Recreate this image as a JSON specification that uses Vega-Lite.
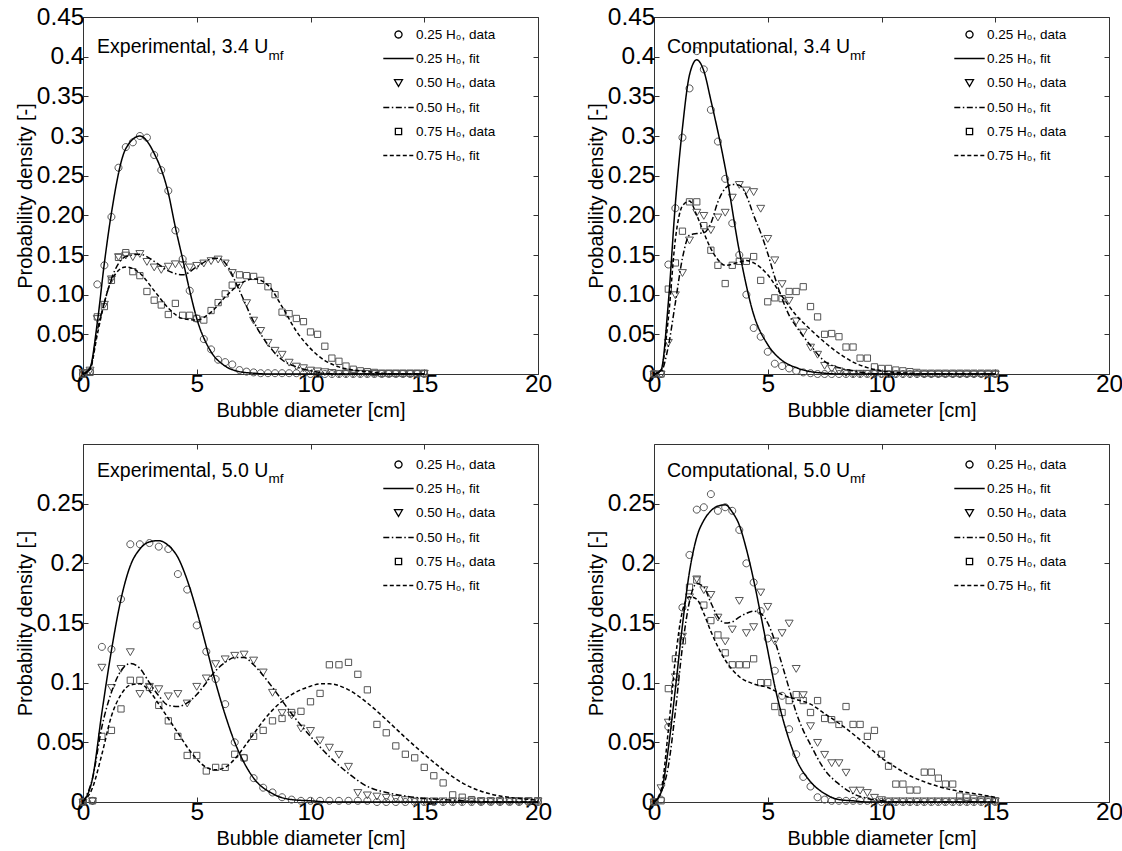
{
"$schema":"https://vega.github.io/schema/vega-lite/v6.json",
"background":"white",
"padding":{"left":14,"top":3,"right":0,"bottom":5},
"columns":2,
"spacing":{"row":22,"column":32},
"resolve":{"scale":{"shape":"independent","strokeDash":"independent"}},
"config":{
 "font":"Liberation Sans",
 "view":{"stroke":"#333","strokeWidth":1},
 "axis":{"domain":false,"grid":false,"tickColor":"#333","tickWidth":1,"labelFontSize":24.5,"titleFontSize":20,"labelColor":"#000","titleColor":"#000","titleFontWeight":"normal","labelFont":"Liberation Sans","titleFont":"Liberation Sans","labelFlush":false,"labelOverlap":false},
 "text":{"font":"Liberation Sans","color":"#000"}
},
"datasets":{
"pts":[
{"p":"A","s":"d1","x":0,"y":0},{"p":"A","s":"d1","x":0.31,"y":0.003},{"p":"A","s":"d1","x":0.63,"y":0.113},{"p":"A","s":"d1","x":0.94,"y":0.137},{"p":"A","s":"d1","x":1.25,"y":0.198},{"p":"A","s":"d1","x":1.56,"y":0.26},{"p":"A","s":"d1","x":1.88,"y":0.286},{"p":"A","s":"d1","x":2.19,"y":0.292},{"p":"A","s":"d1","x":2.5,"y":0.3},{"p":"A","s":"d1","x":2.81,"y":0.298},{"p":"A","s":"d1","x":3.13,"y":0.276},{"p":"A","s":"d1","x":3.44,"y":0.257},{"p":"A","s":"d1","x":3.75,"y":0.231},{"p":"A","s":"d1","x":4.06,"y":0.181},{"p":"A","s":"d1","x":4.38,"y":0.145},{"p":"A","s":"d1","x":4.69,"y":0.105},{"p":"A","s":"d1","x":5,"y":0.07},{"p":"A","s":"d1","x":5.31,"y":0.044},{"p":"A","s":"d1","x":5.63,"y":0.031},{"p":"A","s":"d1","x":5.94,"y":0.018},{"p":"A","s":"d1","x":6.25,"y":0.015},{"p":"A","s":"d1","x":6.56,"y":0.012},{"p":"A","s":"d1","x":6.88,"y":0.005},{"p":"A","s":"d1","x":7.19,"y":0.003},{"p":"A","s":"d1","x":7.5,"y":0.002},{"p":"A","s":"d1","x":7.81,"y":0.001},{"p":"A","s":"d1","x":8.13,"y":0.001},{"p":"A","s":"d1","x":8.44,"y":0.001},{"p":"A","s":"d1","x":8.75,"y":0.001},{"p":"A","s":"d1","x":9.06,"y":0.001},{"p":"A","s":"d1","x":9.38,"y":0.001},{"p":"A","s":"d1","x":9.69,"y":0},{"p":"A","s":"d1","x":10,"y":0},{"p":"A","s":"d1","x":10.31,"y":0},{"p":"A","s":"d1","x":10.63,"y":0},{"p":"A","s":"d1","x":10.94,"y":0},{"p":"A","s":"d1","x":11.25,"y":0},{"p":"A","s":"d1","x":11.56,"y":0},{"p":"A","s":"d1","x":11.88,"y":0},{"p":"A","s":"d1","x":12.19,"y":0},{"p":"A","s":"d1","x":12.5,"y":0},{"p":"A","s":"d1","x":12.81,"y":0},{"p":"A","s":"d1","x":13.13,"y":0},{"p":"A","s":"d1","x":13.44,"y":0},{"p":"A","s":"d1","x":13.75,"y":0},{"p":"A","s":"d1","x":14.06,"y":0},{"p":"A","s":"d1","x":14.38,"y":0},{"p":"A","s":"d1","x":14.69,"y":0},{"p":"A","s":"d1","x":15,"y":0},
{"p":"A","s":"d2","x":0,"y":0.002},{"p":"A","s":"d2","x":0.31,"y":0.005},{"p":"A","s":"d2","x":0.63,"y":0.07},{"p":"A","s":"d2","x":0.94,"y":0.088},{"p":"A","s":"d2","x":1.25,"y":0.12},{"p":"A","s":"d2","x":1.56,"y":0.148},{"p":"A","s":"d2","x":1.88,"y":0.15},{"p":"A","s":"d2","x":2.19,"y":0.148},{"p":"A","s":"d2","x":2.5,"y":0.152},{"p":"A","s":"d2","x":2.81,"y":0.142},{"p":"A","s":"d2","x":3.13,"y":0.135},{"p":"A","s":"d2","x":3.44,"y":0.132},{"p":"A","s":"d2","x":3.75,"y":0.136},{"p":"A","s":"d2","x":4.06,"y":0.139},{"p":"A","s":"d2","x":4.38,"y":0.138},{"p":"A","s":"d2","x":4.69,"y":0.135},{"p":"A","s":"d2","x":5,"y":0.137},{"p":"A","s":"d2","x":5.31,"y":0.14},{"p":"A","s":"d2","x":5.63,"y":0.143},{"p":"A","s":"d2","x":5.94,"y":0.145},{"p":"A","s":"d2","x":6.25,"y":0.14},{"p":"A","s":"d2","x":6.56,"y":0.128},{"p":"A","s":"d2","x":6.88,"y":0.112},{"p":"A","s":"d2","x":7.19,"y":0.09},{"p":"A","s":"d2","x":7.5,"y":0.068},{"p":"A","s":"d2","x":7.81,"y":0.055},{"p":"A","s":"d2","x":8.13,"y":0.04},{"p":"A","s":"d2","x":8.44,"y":0.03},{"p":"A","s":"d2","x":8.75,"y":0.025},{"p":"A","s":"d2","x":9.06,"y":0.015},{"p":"A","s":"d2","x":9.38,"y":0.01},{"p":"A","s":"d2","x":9.69,"y":0.008},{"p":"A","s":"d2","x":10,"y":0.005},{"p":"A","s":"d2","x":10.31,"y":0.004},{"p":"A","s":"d2","x":10.63,"y":0.003},{"p":"A","s":"d2","x":10.94,"y":0.002},{"p":"A","s":"d2","x":11.25,"y":0.001},{"p":"A","s":"d2","x":11.56,"y":0.001},{"p":"A","s":"d2","x":11.88,"y":0.001},{"p":"A","s":"d2","x":12.19,"y":0.001},{"p":"A","s":"d2","x":12.5,"y":0.001},{"p":"A","s":"d2","x":12.81,"y":0.001},{"p":"A","s":"d2","x":13.13,"y":0.001},{"p":"A","s":"d2","x":13.44,"y":0.001},{"p":"A","s":"d2","x":13.75,"y":0.001},{"p":"A","s":"d2","x":14.06,"y":0.001},{"p":"A","s":"d2","x":14.38,"y":0.001},{"p":"A","s":"d2","x":14.69,"y":0.001},{"p":"A","s":"d2","x":15,"y":0.001},
{"p":"A","s":"d3","x":0,"y":0},{"p":"A","s":"d3","x":0.31,"y":0.002},{"p":"A","s":"d3","x":0.63,"y":0.072},{"p":"A","s":"d3","x":0.94,"y":0.085},{"p":"A","s":"d3","x":1.25,"y":0.118},{"p":"A","s":"d3","x":1.56,"y":0.147},{"p":"A","s":"d3","x":1.88,"y":0.153},{"p":"A","s":"d3","x":2.19,"y":0.129},{"p":"A","s":"d3","x":2.5,"y":0.124},{"p":"A","s":"d3","x":2.81,"y":0.104},{"p":"A","s":"d3","x":3.13,"y":0.093},{"p":"A","s":"d3","x":3.44,"y":0.087},{"p":"A","s":"d3","x":3.75,"y":0.075},{"p":"A","s":"d3","x":4.06,"y":0.089},{"p":"A","s":"d3","x":4.38,"y":0.074},{"p":"A","s":"d3","x":4.69,"y":0.074},{"p":"A","s":"d3","x":5,"y":0.07},{"p":"A","s":"d3","x":5.31,"y":0.068},{"p":"A","s":"d3","x":5.63,"y":0.08},{"p":"A","s":"d3","x":5.94,"y":0.09},{"p":"A","s":"d3","x":6.25,"y":0.101},{"p":"A","s":"d3","x":6.56,"y":0.112},{"p":"A","s":"d3","x":6.88,"y":0.125},{"p":"A","s":"d3","x":7.19,"y":0.124},{"p":"A","s":"d3","x":7.5,"y":0.123},{"p":"A","s":"d3","x":7.81,"y":0.118},{"p":"A","s":"d3","x":8.13,"y":0.11},{"p":"A","s":"d3","x":8.44,"y":0.1},{"p":"A","s":"d3","x":8.75,"y":0.078},{"p":"A","s":"d3","x":9.06,"y":0.076},{"p":"A","s":"d3","x":9.38,"y":0.07},{"p":"A","s":"d3","x":9.69,"y":0.066},{"p":"A","s":"d3","x":10,"y":0.053},{"p":"A","s":"d3","x":10.31,"y":0.05},{"p":"A","s":"d3","x":10.63,"y":0.035},{"p":"A","s":"d3","x":10.94,"y":0.02},{"p":"A","s":"d3","x":11.25,"y":0.016},{"p":"A","s":"d3","x":11.56,"y":0.01},{"p":"A","s":"d3","x":11.88,"y":0.006},{"p":"A","s":"d3","x":12.19,"y":0.004},{"p":"A","s":"d3","x":12.5,"y":0.003},{"p":"A","s":"d3","x":12.81,"y":0.002},{"p":"A","s":"d3","x":13.13,"y":0.001},{"p":"A","s":"d3","x":13.44,"y":0.001},{"p":"A","s":"d3","x":13.75,"y":0.001},{"p":"A","s":"d3","x":14.06,"y":0.001},{"p":"A","s":"d3","x":14.38,"y":0.001},{"p":"A","s":"d3","x":14.69,"y":0.001},{"p":"A","s":"d3","x":15,"y":0.001},
{"p":"B","s":"d1","x":0,"y":0},{"p":"B","s":"d1","x":0.31,"y":0},{"p":"B","s":"d1","x":0.63,"y":0.138},{"p":"B","s":"d1","x":0.94,"y":0.209},{"p":"B","s":"d1","x":1.25,"y":0.298},{"p":"B","s":"d1","x":1.56,"y":0.36},{"p":"B","s":"d1","x":1.88,"y":0.407},{"p":"B","s":"d1","x":2.19,"y":0.384},{"p":"B","s":"d1","x":2.5,"y":0.333},{"p":"B","s":"d1","x":2.81,"y":0.293},{"p":"B","s":"d1","x":3.13,"y":0.246},{"p":"B","s":"d1","x":3.44,"y":0.19},{"p":"B","s":"d1","x":3.75,"y":0.15},{"p":"B","s":"d1","x":4.06,"y":0.1},{"p":"B","s":"d1","x":4.38,"y":0.058},{"p":"B","s":"d1","x":4.69,"y":0.047},{"p":"B","s":"d1","x":5,"y":0.028},{"p":"B","s":"d1","x":5.31,"y":0.013},{"p":"B","s":"d1","x":5.63,"y":0.01},{"p":"B","s":"d1","x":5.94,"y":0.007},{"p":"B","s":"d1","x":6.25,"y":0.004},{"p":"B","s":"d1","x":6.56,"y":0.002},{"p":"B","s":"d1","x":6.88,"y":0.001},{"p":"B","s":"d1","x":7.19,"y":0},{"p":"B","s":"d1","x":7.5,"y":0},{"p":"B","s":"d1","x":7.81,"y":0},{"p":"B","s":"d1","x":8.13,"y":0},{"p":"B","s":"d1","x":8.44,"y":0},{"p":"B","s":"d1","x":8.75,"y":0},{"p":"B","s":"d1","x":9.06,"y":0},{"p":"B","s":"d1","x":9.38,"y":0},{"p":"B","s":"d1","x":9.69,"y":0},{"p":"B","s":"d1","x":10,"y":0},{"p":"B","s":"d1","x":10.31,"y":0},{"p":"B","s":"d1","x":10.63,"y":0},{"p":"B","s":"d1","x":10.94,"y":0},{"p":"B","s":"d1","x":11.25,"y":0},{"p":"B","s":"d1","x":11.56,"y":0},{"p":"B","s":"d1","x":11.88,"y":0},{"p":"B","s":"d1","x":12.19,"y":0},{"p":"B","s":"d1","x":12.5,"y":0},{"p":"B","s":"d1","x":12.81,"y":0},{"p":"B","s":"d1","x":13.13,"y":0},{"p":"B","s":"d1","x":13.44,"y":0},{"p":"B","s":"d1","x":13.75,"y":0},{"p":"B","s":"d1","x":14.06,"y":0},{"p":"B","s":"d1","x":14.38,"y":0},{"p":"B","s":"d1","x":14.69,"y":0},{"p":"B","s":"d1","x":15,"y":0},
{"p":"B","s":"d2","x":0,"y":0},{"p":"B","s":"d2","x":0.31,"y":0},{"p":"B","s":"d2","x":0.63,"y":0.04},{"p":"B","s":"d2","x":0.94,"y":0.1},{"p":"B","s":"d2","x":1.25,"y":0.128},{"p":"B","s":"d2","x":1.56,"y":0.169},{"p":"B","s":"d2","x":1.88,"y":0.204},{"p":"B","s":"d2","x":2.19,"y":0.2},{"p":"B","s":"d2","x":2.5,"y":0.182},{"p":"B","s":"d2","x":2.81,"y":0.198},{"p":"B","s":"d2","x":3.13,"y":0.204},{"p":"B","s":"d2","x":3.44,"y":0.223},{"p":"B","s":"d2","x":3.75,"y":0.239},{"p":"B","s":"d2","x":4.06,"y":0.232},{"p":"B","s":"d2","x":4.38,"y":0.23},{"p":"B","s":"d2","x":4.69,"y":0.209},{"p":"B","s":"d2","x":5,"y":0.171},{"p":"B","s":"d2","x":5.31,"y":0.144},{"p":"B","s":"d2","x":5.63,"y":0.114},{"p":"B","s":"d2","x":5.94,"y":0.093},{"p":"B","s":"d2","x":6.25,"y":0.067},{"p":"B","s":"d2","x":6.56,"y":0.053},{"p":"B","s":"d2","x":6.88,"y":0.034},{"p":"B","s":"d2","x":7.19,"y":0.025},{"p":"B","s":"d2","x":7.5,"y":0.011},{"p":"B","s":"d2","x":7.81,"y":0.007},{"p":"B","s":"d2","x":8.13,"y":0.004},{"p":"B","s":"d2","x":8.44,"y":0.002},{"p":"B","s":"d2","x":8.75,"y":0.001},{"p":"B","s":"d2","x":9.06,"y":0.001},{"p":"B","s":"d2","x":9.38,"y":0.001},{"p":"B","s":"d2","x":9.69,"y":0.001},{"p":"B","s":"d2","x":10,"y":0},{"p":"B","s":"d2","x":10.31,"y":0},{"p":"B","s":"d2","x":10.63,"y":0},{"p":"B","s":"d2","x":10.94,"y":0},{"p":"B","s":"d2","x":11.25,"y":0},{"p":"B","s":"d2","x":11.56,"y":0},{"p":"B","s":"d2","x":11.88,"y":0},{"p":"B","s":"d2","x":12.19,"y":0},{"p":"B","s":"d2","x":12.5,"y":0},{"p":"B","s":"d2","x":12.81,"y":0},{"p":"B","s":"d2","x":13.13,"y":0},{"p":"B","s":"d2","x":13.44,"y":0},{"p":"B","s":"d2","x":13.75,"y":0},{"p":"B","s":"d2","x":14.06,"y":0},{"p":"B","s":"d2","x":14.38,"y":0},{"p":"B","s":"d2","x":14.69,"y":0},{"p":"B","s":"d2","x":15,"y":0},
{"p":"B","s":"d3","x":0,"y":0},{"p":"B","s":"d3","x":0.31,"y":0},{"p":"B","s":"d3","x":0.63,"y":0.107},{"p":"B","s":"d3","x":0.94,"y":0.14},{"p":"B","s":"d3","x":1.25,"y":0.18},{"p":"B","s":"d3","x":1.56,"y":0.217},{"p":"B","s":"d3","x":1.88,"y":0.217},{"p":"B","s":"d3","x":2.19,"y":0.187},{"p":"B","s":"d3","x":2.5,"y":0.156},{"p":"B","s":"d3","x":2.81,"y":0.137},{"p":"B","s":"d3","x":3.13,"y":0.114},{"p":"B","s":"d3","x":3.44,"y":0.137},{"p":"B","s":"d3","x":3.75,"y":0.142},{"p":"B","s":"d3","x":4.06,"y":0.142},{"p":"B","s":"d3","x":4.38,"y":0.148},{"p":"B","s":"d3","x":4.69,"y":0.118},{"p":"B","s":"d3","x":5,"y":0.091},{"p":"B","s":"d3","x":5.31,"y":0.096},{"p":"B","s":"d3","x":5.63,"y":0.095},{"p":"B","s":"d3","x":5.94,"y":0.104},{"p":"B","s":"d3","x":6.25,"y":0.104},{"p":"B","s":"d3","x":6.56,"y":0.11},{"p":"B","s":"d3","x":6.88,"y":0.085},{"p":"B","s":"d3","x":7.19,"y":0.072},{"p":"B","s":"d3","x":7.5,"y":0.05},{"p":"B","s":"d3","x":7.81,"y":0.051},{"p":"B","s":"d3","x":8.13,"y":0.047},{"p":"B","s":"d3","x":8.44,"y":0.034},{"p":"B","s":"d3","x":8.75,"y":0.034},{"p":"B","s":"d3","x":9.06,"y":0.02},{"p":"B","s":"d3","x":9.38,"y":0.02},{"p":"B","s":"d3","x":9.69,"y":0.009},{"p":"B","s":"d3","x":10,"y":0.007},{"p":"B","s":"d3","x":10.31,"y":0.007},{"p":"B","s":"d3","x":10.63,"y":0.005},{"p":"B","s":"d3","x":10.94,"y":0.004},{"p":"B","s":"d3","x":11.25,"y":0.003},{"p":"B","s":"d3","x":11.56,"y":0.002},{"p":"B","s":"d3","x":11.88,"y":0.001},{"p":"B","s":"d3","x":12.19,"y":0.001},{"p":"B","s":"d3","x":12.5,"y":0.001},{"p":"B","s":"d3","x":12.81,"y":0.001},{"p":"B","s":"d3","x":13.13,"y":0.001},{"p":"B","s":"d3","x":13.44,"y":0.001},{"p":"B","s":"d3","x":13.75,"y":0.001},{"p":"B","s":"d3","x":14.06,"y":0.001},{"p":"B","s":"d3","x":14.38,"y":0.001},{"p":"B","s":"d3","x":14.69,"y":0.001},{"p":"B","s":"d3","x":15,"y":0.001},
{"p":"C","s":"d1","x":0,"y":0},{"p":"C","s":"d1","x":0.42,"y":0.001},{"p":"C","s":"d1","x":0.83,"y":0.13},{"p":"C","s":"d1","x":1.25,"y":0.128},{"p":"C","s":"d1","x":1.67,"y":0.17},{"p":"C","s":"d1","x":2.08,"y":0.216},{"p":"C","s":"d1","x":2.5,"y":0.216},{"p":"C","s":"d1","x":2.92,"y":0.217},{"p":"C","s":"d1","x":3.33,"y":0.214},{"p":"C","s":"d1","x":3.75,"y":0.212},{"p":"C","s":"d1","x":4.17,"y":0.191},{"p":"C","s":"d1","x":4.58,"y":0.178},{"p":"C","s":"d1","x":5,"y":0.148},{"p":"C","s":"d1","x":5.42,"y":0.126},{"p":"C","s":"d1","x":5.83,"y":0.103},{"p":"C","s":"d1","x":6.25,"y":0.082},{"p":"C","s":"d1","x":6.67,"y":0.05},{"p":"C","s":"d1","x":7.08,"y":0.037},{"p":"C","s":"d1","x":7.5,"y":0.02},{"p":"C","s":"d1","x":7.92,"y":0.012},{"p":"C","s":"d1","x":8.33,"y":0.008},{"p":"C","s":"d1","x":8.75,"y":0.004},{"p":"C","s":"d1","x":9.17,"y":0.002},{"p":"C","s":"d1","x":9.58,"y":0.001},{"p":"C","s":"d1","x":10,"y":0.001},{"p":"C","s":"d1","x":10.42,"y":0.001},{"p":"C","s":"d1","x":10.83,"y":0.001},{"p":"C","s":"d1","x":11.25,"y":0.001},{"p":"C","s":"d1","x":11.67,"y":0.001},{"p":"C","s":"d1","x":12.08,"y":0.001},{"p":"C","s":"d1","x":12.5,"y":0.001},{"p":"C","s":"d1","x":12.92,"y":0},{"p":"C","s":"d1","x":13.33,"y":0},{"p":"C","s":"d1","x":13.75,"y":0},{"p":"C","s":"d1","x":14.17,"y":0},{"p":"C","s":"d1","x":14.58,"y":0},{"p":"C","s":"d1","x":15,"y":0},{"p":"C","s":"d1","x":15.42,"y":0},{"p":"C","s":"d1","x":15.83,"y":0},{"p":"C","s":"d1","x":16.25,"y":0},{"p":"C","s":"d1","x":16.67,"y":0},{"p":"C","s":"d1","x":17.08,"y":0},{"p":"C","s":"d1","x":17.5,"y":0},{"p":"C","s":"d1","x":17.92,"y":0},{"p":"C","s":"d1","x":18.33,"y":0},{"p":"C","s":"d1","x":18.75,"y":0},{"p":"C","s":"d1","x":19.17,"y":0},{"p":"C","s":"d1","x":19.58,"y":0},{"p":"C","s":"d1","x":20,"y":0},
{"p":"C","s":"d2","x":0,"y":0},{"p":"C","s":"d2","x":0.42,"y":0.001},{"p":"C","s":"d2","x":0.83,"y":0.113},{"p":"C","s":"d2","x":1.25,"y":0.096},{"p":"C","s":"d2","x":1.67,"y":0.112},{"p":"C","s":"d2","x":2.08,"y":0.126},{"p":"C","s":"d2","x":2.5,"y":0.091},{"p":"C","s":"d2","x":2.92,"y":0.097},{"p":"C","s":"d2","x":3.33,"y":0.095},{"p":"C","s":"d2","x":3.75,"y":0.089},{"p":"C","s":"d2","x":4.17,"y":0.091},{"p":"C","s":"d2","x":4.58,"y":0.083},{"p":"C","s":"d2","x":5,"y":0.097},{"p":"C","s":"d2","x":5.42,"y":0.104},{"p":"C","s":"d2","x":5.83,"y":0.116},{"p":"C","s":"d2","x":6.25,"y":0.12},{"p":"C","s":"d2","x":6.67,"y":0.123},{"p":"C","s":"d2","x":7.08,"y":0.124},{"p":"C","s":"d2","x":7.5,"y":0.119},{"p":"C","s":"d2","x":7.92,"y":0.109},{"p":"C","s":"d2","x":8.33,"y":0.092},{"p":"C","s":"d2","x":8.75,"y":0.075},{"p":"C","s":"d2","x":9.17,"y":0.073},{"p":"C","s":"d2","x":9.58,"y":0.062},{"p":"C","s":"d2","x":10,"y":0.06},{"p":"C","s":"d2","x":10.42,"y":0.052},{"p":"C","s":"d2","x":10.83,"y":0.046},{"p":"C","s":"d2","x":11.25,"y":0.04},{"p":"C","s":"d2","x":11.67,"y":0.03},{"p":"C","s":"d2","x":12.08,"y":0.008},{"p":"C","s":"d2","x":12.5,"y":0.006},{"p":"C","s":"d2","x":12.92,"y":0.005},{"p":"C","s":"d2","x":13.33,"y":0.004},{"p":"C","s":"d2","x":13.75,"y":0.003},{"p":"C","s":"d2","x":14.17,"y":0.002},{"p":"C","s":"d2","x":14.58,"y":0.001},{"p":"C","s":"d2","x":15,"y":0.001},{"p":"C","s":"d2","x":15.42,"y":0.001},{"p":"C","s":"d2","x":15.83,"y":0.001},{"p":"C","s":"d2","x":16.25,"y":0.001},{"p":"C","s":"d2","x":16.67,"y":0.001},{"p":"C","s":"d2","x":17.08,"y":0.001},{"p":"C","s":"d2","x":17.5,"y":0.001},{"p":"C","s":"d2","x":17.92,"y":0.001},{"p":"C","s":"d2","x":18.33,"y":0.001},{"p":"C","s":"d2","x":18.75,"y":0.001},{"p":"C","s":"d2","x":19.17,"y":0.001},{"p":"C","s":"d2","x":19.58,"y":0.001},{"p":"C","s":"d2","x":20,"y":0.001},
{"p":"C","s":"d3","x":0,"y":0},{"p":"C","s":"d3","x":0.42,"y":0.001},{"p":"C","s":"d3","x":0.83,"y":0.055},{"p":"C","s":"d3","x":1.25,"y":0.06},{"p":"C","s":"d3","x":1.67,"y":0.078},{"p":"C","s":"d3","x":2.08,"y":0.102},{"p":"C","s":"d3","x":2.5,"y":0.102},{"p":"C","s":"d3","x":2.92,"y":0.096},{"p":"C","s":"d3","x":3.33,"y":0.081},{"p":"C","s":"d3","x":3.75,"y":0.068},{"p":"C","s":"d3","x":4.17,"y":0.055},{"p":"C","s":"d3","x":4.58,"y":0.039},{"p":"C","s":"d3","x":5,"y":0.039},{"p":"C","s":"d3","x":5.42,"y":0.026},{"p":"C","s":"d3","x":5.83,"y":0.029},{"p":"C","s":"d3","x":6.25,"y":0.029},{"p":"C","s":"d3","x":6.67,"y":0.04},{"p":"C","s":"d3","x":7.08,"y":0.037},{"p":"C","s":"d3","x":7.5,"y":0.055},{"p":"C","s":"d3","x":7.92,"y":0.06},{"p":"C","s":"d3","x":8.33,"y":0.068},{"p":"C","s":"d3","x":8.75,"y":0.07},{"p":"C","s":"d3","x":9.17,"y":0.075},{"p":"C","s":"d3","x":9.58,"y":0.076},{"p":"C","s":"d3","x":10,"y":0.084},{"p":"C","s":"d3","x":10.42,"y":0.091},{"p":"C","s":"d3","x":10.83,"y":0.115},{"p":"C","s":"d3","x":11.25,"y":0.115},{"p":"C","s":"d3","x":11.67,"y":0.117},{"p":"C","s":"d3","x":12.08,"y":0.107},{"p":"C","s":"d3","x":12.5,"y":0.094},{"p":"C","s":"d3","x":12.92,"y":0.065},{"p":"C","s":"d3","x":13.33,"y":0.058},{"p":"C","s":"d3","x":13.75,"y":0.047},{"p":"C","s":"d3","x":14.17,"y":0.04},{"p":"C","s":"d3","x":14.58,"y":0.037},{"p":"C","s":"d3","x":15,"y":0.029},{"p":"C","s":"d3","x":15.42,"y":0.022},{"p":"C","s":"d3","x":15.83,"y":0.016},{"p":"C","s":"d3","x":16.25,"y":0.006},{"p":"C","s":"d3","x":16.67,"y":0.004},{"p":"C","s":"d3","x":17.08,"y":0.002},{"p":"C","s":"d3","x":17.5,"y":0.001},{"p":"C","s":"d3","x":17.92,"y":0.001},{"p":"C","s":"d3","x":18.33,"y":0.001},{"p":"C","s":"d3","x":18.75,"y":0.001},{"p":"C","s":"d3","x":19.17,"y":0.001},{"p":"C","s":"d3","x":19.58,"y":0.001},{"p":"C","s":"d3","x":20,"y":0.001},
{"p":"D","s":"d1","x":0,"y":0},{"p":"D","s":"d1","x":0.31,"y":0.002},{"p":"D","s":"d1","x":0.63,"y":0.063},{"p":"D","s":"d1","x":0.94,"y":0.1},{"p":"D","s":"d1","x":1.25,"y":0.163},{"p":"D","s":"d1","x":1.56,"y":0.207},{"p":"D","s":"d1","x":1.88,"y":0.245},{"p":"D","s":"d1","x":2.19,"y":0.247},{"p":"D","s":"d1","x":2.5,"y":0.258},{"p":"D","s":"d1","x":2.81,"y":0.244},{"p":"D","s":"d1","x":3.13,"y":0.247},{"p":"D","s":"d1","x":3.44,"y":0.244},{"p":"D","s":"d1","x":3.75,"y":0.228},{"p":"D","s":"d1","x":4.06,"y":0.2},{"p":"D","s":"d1","x":4.38,"y":0.184},{"p":"D","s":"d1","x":4.69,"y":0.16},{"p":"D","s":"d1","x":5,"y":0.137},{"p":"D","s":"d1","x":5.31,"y":0.11},{"p":"D","s":"d1","x":5.63,"y":0.089},{"p":"D","s":"d1","x":5.94,"y":0.061},{"p":"D","s":"d1","x":6.25,"y":0.04},{"p":"D","s":"d1","x":6.56,"y":0.021},{"p":"D","s":"d1","x":6.88,"y":0.013},{"p":"D","s":"d1","x":7.19,"y":0.004},{"p":"D","s":"d1","x":7.5,"y":0.002},{"p":"D","s":"d1","x":7.81,"y":0.001},{"p":"D","s":"d1","x":8.13,"y":0.001},{"p":"D","s":"d1","x":8.44,"y":0.001},{"p":"D","s":"d1","x":8.75,"y":0.001},{"p":"D","s":"d1","x":9.06,"y":0.001},{"p":"D","s":"d1","x":9.38,"y":0.001},{"p":"D","s":"d1","x":9.69,"y":0},{"p":"D","s":"d1","x":10,"y":0},{"p":"D","s":"d1","x":10.31,"y":0},{"p":"D","s":"d1","x":10.63,"y":0},{"p":"D","s":"d1","x":10.94,"y":0},{"p":"D","s":"d1","x":11.25,"y":0},{"p":"D","s":"d1","x":11.56,"y":0},{"p":"D","s":"d1","x":11.88,"y":0},{"p":"D","s":"d1","x":12.19,"y":0},{"p":"D","s":"d1","x":12.5,"y":0},{"p":"D","s":"d1","x":12.81,"y":0},{"p":"D","s":"d1","x":13.13,"y":0},{"p":"D","s":"d1","x":13.44,"y":0},{"p":"D","s":"d1","x":13.75,"y":0},{"p":"D","s":"d1","x":14.06,"y":0},{"p":"D","s":"d1","x":14.38,"y":0},{"p":"D","s":"d1","x":14.69,"y":0},{"p":"D","s":"d1","x":15,"y":0},
{"p":"D","s":"d2","x":0,"y":0},{"p":"D","s":"d2","x":0.31,"y":0.012},{"p":"D","s":"d2","x":0.63,"y":0.067},{"p":"D","s":"d2","x":0.94,"y":0.105},{"p":"D","s":"d2","x":1.25,"y":0.139},{"p":"D","s":"d2","x":1.56,"y":0.172},{"p":"D","s":"d2","x":1.88,"y":0.187},{"p":"D","s":"d2","x":2.19,"y":0.178},{"p":"D","s":"d2","x":2.5,"y":0.174},{"p":"D","s":"d2","x":2.81,"y":0.155},{"p":"D","s":"d2","x":3.13,"y":0.135},{"p":"D","s":"d2","x":3.44,"y":0.145},{"p":"D","s":"d2","x":3.75,"y":0.169},{"p":"D","s":"d2","x":4.06,"y":0.142},{"p":"D","s":"d2","x":4.38,"y":0.147},{"p":"D","s":"d2","x":4.69,"y":0.176},{"p":"D","s":"d2","x":5,"y":0.164},{"p":"D","s":"d2","x":5.31,"y":0.135},{"p":"D","s":"d2","x":5.63,"y":0.142},{"p":"D","s":"d2","x":5.94,"y":0.15},{"p":"D","s":"d2","x":6.25,"y":0.112},{"p":"D","s":"d2","x":6.56,"y":0.09},{"p":"D","s":"d2","x":6.88,"y":0.064},{"p":"D","s":"d2","x":7.19,"y":0.05},{"p":"D","s":"d2","x":7.5,"y":0.04},{"p":"D","s":"d2","x":7.81,"y":0.033},{"p":"D","s":"d2","x":8.13,"y":0.033},{"p":"D","s":"d2","x":8.44,"y":0.025},{"p":"D","s":"d2","x":8.75,"y":0.01},{"p":"D","s":"d2","x":9.06,"y":0.01},{"p":"D","s":"d2","x":9.38,"y":0.008},{"p":"D","s":"d2","x":9.69,"y":0.004},{"p":"D","s":"d2","x":10,"y":0.002},{"p":"D","s":"d2","x":10.31,"y":0.001},{"p":"D","s":"d2","x":10.63,"y":0.001},{"p":"D","s":"d2","x":10.94,"y":0.001},{"p":"D","s":"d2","x":11.25,"y":0.001},{"p":"D","s":"d2","x":11.56,"y":0.001},{"p":"D","s":"d2","x":11.88,"y":0.001},{"p":"D","s":"d2","x":12.19,"y":0.001},{"p":"D","s":"d2","x":12.5,"y":0.001},{"p":"D","s":"d2","x":12.81,"y":0.001},{"p":"D","s":"d2","x":13.13,"y":0.001},{"p":"D","s":"d2","x":13.44,"y":0.001},{"p":"D","s":"d2","x":13.75,"y":0.001},{"p":"D","s":"d2","x":14.06,"y":0.001},{"p":"D","s":"d2","x":14.38,"y":0.001},{"p":"D","s":"d2","x":14.69,"y":0.001},{"p":"D","s":"d2","x":15,"y":0.001},
{"p":"D","s":"d3","x":0,"y":0},{"p":"D","s":"d3","x":0.31,"y":0.001},{"p":"D","s":"d3","x":0.63,"y":0.095},{"p":"D","s":"d3","x":0.94,"y":0.12},{"p":"D","s":"d3","x":1.25,"y":0.135},{"p":"D","s":"d3","x":1.56,"y":0.18},{"p":"D","s":"d3","x":1.88,"y":0.186},{"p":"D","s":"d3","x":2.19,"y":0.165},{"p":"D","s":"d3","x":2.5,"y":0.152},{"p":"D","s":"d3","x":2.81,"y":0.14},{"p":"D","s":"d3","x":3.13,"y":0.125},{"p":"D","s":"d3","x":3.44,"y":0.115},{"p":"D","s":"d3","x":3.75,"y":0.115},{"p":"D","s":"d3","x":4.06,"y":0.115},{"p":"D","s":"d3","x":4.38,"y":0.12},{"p":"D","s":"d3","x":4.69,"y":0.1},{"p":"D","s":"d3","x":5,"y":0.1},{"p":"D","s":"d3","x":5.31,"y":0.08},{"p":"D","s":"d3","x":5.63,"y":0.075},{"p":"D","s":"d3","x":5.94,"y":0.085},{"p":"D","s":"d3","x":6.25,"y":0.09},{"p":"D","s":"d3","x":6.56,"y":0.085},{"p":"D","s":"d3","x":6.88,"y":0.075},{"p":"D","s":"d3","x":7.19,"y":0.085},{"p":"D","s":"d3","x":7.5,"y":0.07},{"p":"D","s":"d3","x":7.81,"y":0.069},{"p":"D","s":"d3","x":8.13,"y":0.065},{"p":"D","s":"d3","x":8.44,"y":0.08},{"p":"D","s":"d3","x":8.75,"y":0.065},{"p":"D","s":"d3","x":9.06,"y":0.065},{"p":"D","s":"d3","x":9.38,"y":0.055},{"p":"D","s":"d3","x":9.69,"y":0.06},{"p":"D","s":"d3","x":10,"y":0.04},{"p":"D","s":"d3","x":10.31,"y":0.03},{"p":"D","s":"d3","x":10.63,"y":0.015},{"p":"D","s":"d3","x":10.94,"y":0.015},{"p":"D","s":"d3","x":11.25,"y":0.01},{"p":"D","s":"d3","x":11.56,"y":0.01},{"p":"D","s":"d3","x":11.88,"y":0.025},{"p":"D","s":"d3","x":12.19,"y":0.025},{"p":"D","s":"d3","x":12.5,"y":0.02},{"p":"D","s":"d3","x":12.81,"y":0.015},{"p":"D","s":"d3","x":13.13,"y":0.015},{"p":"D","s":"d3","x":13.44,"y":0.005},{"p":"D","s":"d3","x":13.75,"y":0.004},{"p":"D","s":"d3","x":14.06,"y":0.003},{"p":"D","s":"d3","x":14.38,"y":0.002},{"p":"D","s":"d3","x":14.69,"y":0.002},{"p":"D","s":"d3","x":15,"y":0.001}
],
"fit":[
{"p":"A","s":"f1","x":0,"y":0},{"p":"A","s":"f1","x":0.31,"y":0.008},{"p":"A","s":"f1","x":0.63,"y":0.065},{"p":"A","s":"f1","x":0.94,"y":0.14},{"p":"A","s":"f1","x":1.25,"y":0.203},{"p":"A","s":"f1","x":1.88,"y":0.284},{"p":"A","s":"f1","x":2.5,"y":0.3},{"p":"A","s":"f1","x":3.13,"y":0.278},{"p":"A","s":"f1","x":3.75,"y":0.228},{"p":"A","s":"f1","x":4.06,"y":0.185},{"p":"A","s":"f1","x":4.38,"y":0.145},{"p":"A","s":"f1","x":4.69,"y":0.105},{"p":"A","s":"f1","x":5,"y":0.07},{"p":"A","s":"f1","x":5.63,"y":0.028},{"p":"A","s":"f1","x":6.25,"y":0.01},{"p":"A","s":"f1","x":6.88,"y":0.003},{"p":"A","s":"f1","x":7.5,"y":0.001},{"p":"A","s":"f1","x":8.13,"y":0},{"p":"A","s":"f1","x":10,"y":0},{"p":"A","s":"f1","x":12.5,"y":0},{"p":"A","s":"f1","x":15,"y":0},
{"p":"A","s":"f2","x":0,"y":0},{"p":"A","s":"f2","x":0.31,"y":0.006},{"p":"A","s":"f2","x":0.63,"y":0.055},{"p":"A","s":"f2","x":0.94,"y":0.09},{"p":"A","s":"f2","x":1.25,"y":0.12},{"p":"A","s":"f2","x":1.88,"y":0.148},{"p":"A","s":"f2","x":2.5,"y":0.151},{"p":"A","s":"f2","x":3.13,"y":0.142},{"p":"A","s":"f2","x":3.75,"y":0.13},{"p":"A","s":"f2","x":4.38,"y":0.125},{"p":"A","s":"f2","x":5,"y":0.135},{"p":"A","s":"f2","x":5.63,"y":0.145},{"p":"A","s":"f2","x":5.94,"y":0.146},{"p":"A","s":"f2","x":6.25,"y":0.14},{"p":"A","s":"f2","x":6.88,"y":0.105},{"p":"A","s":"f2","x":7.5,"y":0.066},{"p":"A","s":"f2","x":8.13,"y":0.037},{"p":"A","s":"f2","x":8.75,"y":0.018},{"p":"A","s":"f2","x":9.38,"y":0.009},{"p":"A","s":"f2","x":10,"y":0.004},{"p":"A","s":"f2","x":10.63,"y":0.001},{"p":"A","s":"f2","x":11.25,"y":0},{"p":"A","s":"f2","x":12.5,"y":0},{"p":"A","s":"f2","x":15,"y":0},
{"p":"A","s":"f3","x":0,"y":0},{"p":"A","s":"f3","x":0.31,"y":0.006},{"p":"A","s":"f3","x":0.63,"y":0.05},{"p":"A","s":"f3","x":0.94,"y":0.09},{"p":"A","s":"f3","x":1.25,"y":0.118},{"p":"A","s":"f3","x":1.88,"y":0.135},{"p":"A","s":"f3","x":2.5,"y":0.127},{"p":"A","s":"f3","x":3.13,"y":0.105},{"p":"A","s":"f3","x":3.75,"y":0.083},{"p":"A","s":"f3","x":4.38,"y":0.07},{"p":"A","s":"f3","x":5,"y":0.068},{"p":"A","s":"f3","x":5.63,"y":0.078},{"p":"A","s":"f3","x":6.25,"y":0.097},{"p":"A","s":"f3","x":6.88,"y":0.113},{"p":"A","s":"f3","x":7.5,"y":0.12},{"p":"A","s":"f3","x":8.13,"y":0.112},{"p":"A","s":"f3","x":8.75,"y":0.085},{"p":"A","s":"f3","x":9.38,"y":0.054},{"p":"A","s":"f3","x":10,"y":0.032},{"p":"A","s":"f3","x":10.63,"y":0.017},{"p":"A","s":"f3","x":11.25,"y":0.009},{"p":"A","s":"f3","x":11.88,"y":0.005},{"p":"A","s":"f3","x":12.5,"y":0.003},{"p":"A","s":"f3","x":13.13,"y":0.001},{"p":"A","s":"f3","x":13.75,"y":0},{"p":"A","s":"f3","x":15,"y":0},
{"p":"B","s":"f1","x":0,"y":0},{"p":"B","s":"f1","x":0.31,"y":0.005},{"p":"B","s":"f1","x":0.63,"y":0.09},{"p":"B","s":"f1","x":0.94,"y":0.215},{"p":"B","s":"f1","x":1.25,"y":0.31},{"p":"B","s":"f1","x":1.56,"y":0.377},{"p":"B","s":"f1","x":1.88,"y":0.396},{"p":"B","s":"f1","x":2.19,"y":0.382},{"p":"B","s":"f1","x":2.5,"y":0.345},{"p":"B","s":"f1","x":3.13,"y":0.26},{"p":"B","s":"f1","x":3.75,"y":0.155},{"p":"B","s":"f1","x":4.38,"y":0.075},{"p":"B","s":"f1","x":5,"y":0.037},{"p":"B","s":"f1","x":5.63,"y":0.017},{"p":"B","s":"f1","x":6.25,"y":0.008},{"p":"B","s":"f1","x":6.88,"y":0.003},{"p":"B","s":"f1","x":7.5,"y":0.001},{"p":"B","s":"f1","x":8.13,"y":0},{"p":"B","s":"f1","x":10,"y":0},{"p":"B","s":"f1","x":12.5,"y":0},{"p":"B","s":"f1","x":15,"y":0},
{"p":"B","s":"f2","x":0,"y":0},{"p":"B","s":"f2","x":0.31,"y":0.003},{"p":"B","s":"f2","x":0.63,"y":0.035},{"p":"B","s":"f2","x":0.94,"y":0.09},{"p":"B","s":"f2","x":1.25,"y":0.146},{"p":"B","s":"f2","x":1.56,"y":0.175},{"p":"B","s":"f2","x":1.88,"y":0.177},{"p":"B","s":"f2","x":2.19,"y":0.178},{"p":"B","s":"f2","x":2.5,"y":0.19},{"p":"B","s":"f2","x":2.81,"y":0.217},{"p":"B","s":"f2","x":3.13,"y":0.234},{"p":"B","s":"f2","x":3.44,"y":0.239},{"p":"B","s":"f2","x":3.75,"y":0.238},{"p":"B","s":"f2","x":4.06,"y":0.225},{"p":"B","s":"f2","x":4.38,"y":0.2},{"p":"B","s":"f2","x":4.69,"y":0.178},{"p":"B","s":"f2","x":5,"y":0.152},{"p":"B","s":"f2","x":5.31,"y":0.122},{"p":"B","s":"f2","x":5.63,"y":0.095},{"p":"B","s":"f2","x":5.94,"y":0.074},{"p":"B","s":"f2","x":6.25,"y":0.06},{"p":"B","s":"f2","x":6.88,"y":0.036},{"p":"B","s":"f2","x":7.5,"y":0.016},{"p":"B","s":"f2","x":8.13,"y":0.008},{"p":"B","s":"f2","x":8.75,"y":0.004},{"p":"B","s":"f2","x":9.38,"y":0.001},{"p":"B","s":"f2","x":10,"y":0},{"p":"B","s":"f2","x":12.5,"y":0},{"p":"B","s":"f2","x":15,"y":0},
{"p":"B","s":"f3","x":0,"y":0},{"p":"B","s":"f3","x":0.31,"y":0.005},{"p":"B","s":"f3","x":0.63,"y":0.07},{"p":"B","s":"f3","x":0.94,"y":0.17},{"p":"B","s":"f3","x":1.25,"y":0.212},{"p":"B","s":"f3","x":1.56,"y":0.218},{"p":"B","s":"f3","x":1.88,"y":0.2},{"p":"B","s":"f3","x":2.19,"y":0.178},{"p":"B","s":"f3","x":2.5,"y":0.158},{"p":"B","s":"f3","x":2.81,"y":0.144},{"p":"B","s":"f3","x":3.13,"y":0.137},{"p":"B","s":"f3","x":3.75,"y":0.141},{"p":"B","s":"f3","x":4.06,"y":0.143},{"p":"B","s":"f3","x":4.38,"y":0.14},{"p":"B","s":"f3","x":5,"y":0.125},{"p":"B","s":"f3","x":5.63,"y":0.098},{"p":"B","s":"f3","x":6.25,"y":0.074},{"p":"B","s":"f3","x":6.88,"y":0.056},{"p":"B","s":"f3","x":7.5,"y":0.04},{"p":"B","s":"f3","x":8.13,"y":0.026},{"p":"B","s":"f3","x":8.75,"y":0.015},{"p":"B","s":"f3","x":9.38,"y":0.008},{"p":"B","s":"f3","x":10,"y":0.004},{"p":"B","s":"f3","x":10.63,"y":0.002},{"p":"B","s":"f3","x":11.25,"y":0.001},{"p":"B","s":"f3","x":11.88,"y":0},{"p":"B","s":"f3","x":15,"y":0},
{"p":"C","s":"f1","x":0,"y":0},{"p":"C","s":"f1","x":0.42,"y":0.02},{"p":"C","s":"f1","x":0.83,"y":0.075},{"p":"C","s":"f1","x":1.25,"y":0.127},{"p":"C","s":"f1","x":1.67,"y":0.17},{"p":"C","s":"f1","x":2.08,"y":0.198},{"p":"C","s":"f1","x":2.5,"y":0.212},{"p":"C","s":"f1","x":2.92,"y":0.218},{"p":"C","s":"f1","x":3.33,"y":0.219},{"p":"C","s":"f1","x":3.75,"y":0.215},{"p":"C","s":"f1","x":4.17,"y":0.205},{"p":"C","s":"f1","x":4.58,"y":0.186},{"p":"C","s":"f1","x":5,"y":0.16},{"p":"C","s":"f1","x":5.42,"y":0.13},{"p":"C","s":"f1","x":5.83,"y":0.1},{"p":"C","s":"f1","x":6.25,"y":0.073},{"p":"C","s":"f1","x":6.67,"y":0.05},{"p":"C","s":"f1","x":7.08,"y":0.033},{"p":"C","s":"f1","x":7.5,"y":0.02},{"p":"C","s":"f1","x":8.33,"y":0.007},{"p":"C","s":"f1","x":9.17,"y":0.002},{"p":"C","s":"f1","x":10,"y":0.001},{"p":"C","s":"f1","x":10.83,"y":0},{"p":"C","s":"f1","x":15,"y":0},{"p":"C","s":"f1","x":20,"y":0},
{"p":"C","s":"f2","x":0,"y":0},{"p":"C","s":"f2","x":0.42,"y":0.02},{"p":"C","s":"f2","x":0.83,"y":0.063},{"p":"C","s":"f2","x":1.25,"y":0.092},{"p":"C","s":"f2","x":1.67,"y":0.11},{"p":"C","s":"f2","x":2.08,"y":0.116},{"p":"C","s":"f2","x":2.5,"y":0.112},{"p":"C","s":"f2","x":2.92,"y":0.1},{"p":"C","s":"f2","x":3.33,"y":0.089},{"p":"C","s":"f2","x":3.75,"y":0.081},{"p":"C","s":"f2","x":4.17,"y":0.08},{"p":"C","s":"f2","x":4.58,"y":0.083},{"p":"C","s":"f2","x":5,"y":0.09},{"p":"C","s":"f2","x":5.42,"y":0.1},{"p":"C","s":"f2","x":5.83,"y":0.11},{"p":"C","s":"f2","x":6.25,"y":0.117},{"p":"C","s":"f2","x":6.67,"y":0.121},{"p":"C","s":"f2","x":7.08,"y":0.121},{"p":"C","s":"f2","x":7.5,"y":0.115},{"p":"C","s":"f2","x":7.92,"y":0.106},{"p":"C","s":"f2","x":8.33,"y":0.096},{"p":"C","s":"f2","x":9.17,"y":0.074},{"p":"C","s":"f2","x":10,"y":0.055},{"p":"C","s":"f2","x":10.83,"y":0.038},{"p":"C","s":"f2","x":11.67,"y":0.024},{"p":"C","s":"f2","x":12.5,"y":0.013},{"p":"C","s":"f2","x":13.33,"y":0.008},{"p":"C","s":"f2","x":14.17,"y":0.005},{"p":"C","s":"f2","x":15,"y":0.003},{"p":"C","s":"f2","x":15.83,"y":0.002},{"p":"C","s":"f2","x":16.67,"y":0.001},{"p":"C","s":"f2","x":18.33,"y":0},{"p":"C","s":"f2","x":20,"y":0},
{"p":"C","s":"f3","x":0,"y":0},{"p":"C","s":"f3","x":0.42,"y":0.012},{"p":"C","s":"f3","x":0.83,"y":0.04},{"p":"C","s":"f3","x":1.25,"y":0.072},{"p":"C","s":"f3","x":1.67,"y":0.09},{"p":"C","s":"f3","x":2.08,"y":0.098},{"p":"C","s":"f3","x":2.5,"y":0.099},{"p":"C","s":"f3","x":2.92,"y":0.093},{"p":"C","s":"f3","x":3.33,"y":0.082},{"p":"C","s":"f3","x":3.75,"y":0.07},{"p":"C","s":"f3","x":4.17,"y":0.058},{"p":"C","s":"f3","x":4.58,"y":0.046},{"p":"C","s":"f3","x":5,"y":0.036},{"p":"C","s":"f3","x":5.42,"y":0.029},{"p":"C","s":"f3","x":5.83,"y":0.027},{"p":"C","s":"f3","x":6.25,"y":0.029},{"p":"C","s":"f3","x":6.67,"y":0.036},{"p":"C","s":"f3","x":7.08,"y":0.046},{"p":"C","s":"f3","x":7.5,"y":0.057},{"p":"C","s":"f3","x":7.92,"y":0.068},{"p":"C","s":"f3","x":8.33,"y":0.077},{"p":"C","s":"f3","x":9.17,"y":0.09},{"p":"C","s":"f3","x":10,"y":0.097},{"p":"C","s":"f3","x":10.42,"y":0.099},{"p":"C","s":"f3","x":10.83,"y":0.099},{"p":"C","s":"f3","x":11.67,"y":0.094},{"p":"C","s":"f3","x":12.5,"y":0.083},{"p":"C","s":"f3","x":13.33,"y":0.069},{"p":"C","s":"f3","x":14.17,"y":0.054},{"p":"C","s":"f3","x":15,"y":0.04},{"p":"C","s":"f3","x":15.83,"y":0.027},{"p":"C","s":"f3","x":16.67,"y":0.016},{"p":"C","s":"f3","x":17.5,"y":0.009},{"p":"C","s":"f3","x":18.33,"y":0.005},{"p":"C","s":"f3","x":19.17,"y":0.003},{"p":"C","s":"f3","x":20,"y":0.0015},
{"p":"D","s":"f1","x":0,"y":0},{"p":"D","s":"f1","x":0.31,"y":0.008},{"p":"D","s":"f1","x":0.63,"y":0.045},{"p":"D","s":"f1","x":0.94,"y":0.095},{"p":"D","s":"f1","x":1.25,"y":0.148},{"p":"D","s":"f1","x":1.56,"y":0.193},{"p":"D","s":"f1","x":1.88,"y":0.222},{"p":"D","s":"f1","x":2.19,"y":0.236},{"p":"D","s":"f1","x":2.5,"y":0.244},{"p":"D","s":"f1","x":2.81,"y":0.248},{"p":"D","s":"f1","x":3.13,"y":0.249},{"p":"D","s":"f1","x":3.44,"y":0.243},{"p":"D","s":"f1","x":3.75,"y":0.232},{"p":"D","s":"f1","x":4.06,"y":0.212},{"p":"D","s":"f1","x":4.38,"y":0.186},{"p":"D","s":"f1","x":4.69,"y":0.157},{"p":"D","s":"f1","x":5,"y":0.127},{"p":"D","s":"f1","x":5.31,"y":0.097},{"p":"D","s":"f1","x":5.63,"y":0.072},{"p":"D","s":"f1","x":5.94,"y":0.052},{"p":"D","s":"f1","x":6.25,"y":0.036},{"p":"D","s":"f1","x":6.88,"y":0.017},{"p":"D","s":"f1","x":7.5,"y":0.007},{"p":"D","s":"f1","x":8.13,"y":0.002},{"p":"D","s":"f1","x":8.75,"y":0.001},{"p":"D","s":"f1","x":9.38,"y":0},{"p":"D","s":"f1","x":12.5,"y":0},{"p":"D","s":"f1","x":15,"y":0},
{"p":"D","s":"f2","x":0,"y":0},{"p":"D","s":"f2","x":0.31,"y":0.008},{"p":"D","s":"f2","x":0.63,"y":0.03},{"p":"D","s":"f2","x":0.94,"y":0.076},{"p":"D","s":"f2","x":1.25,"y":0.13},{"p":"D","s":"f2","x":1.56,"y":0.168},{"p":"D","s":"f2","x":1.88,"y":0.183},{"p":"D","s":"f2","x":2.19,"y":0.18},{"p":"D","s":"f2","x":2.5,"y":0.167},{"p":"D","s":"f2","x":2.81,"y":0.155},{"p":"D","s":"f2","x":3.13,"y":0.15},{"p":"D","s":"f2","x":3.44,"y":0.151},{"p":"D","s":"f2","x":3.75,"y":0.155},{"p":"D","s":"f2","x":4.06,"y":0.158},{"p":"D","s":"f2","x":4.38,"y":0.16},{"p":"D","s":"f2","x":4.69,"y":0.158},{"p":"D","s":"f2","x":5,"y":0.15},{"p":"D","s":"f2","x":5.31,"y":0.135},{"p":"D","s":"f2","x":5.63,"y":0.115},{"p":"D","s":"f2","x":5.94,"y":0.095},{"p":"D","s":"f2","x":6.25,"y":0.075},{"p":"D","s":"f2","x":6.56,"y":0.06},{"p":"D","s":"f2","x":6.88,"y":0.048},{"p":"D","s":"f2","x":7.5,"y":0.027},{"p":"D","s":"f2","x":8.13,"y":0.015},{"p":"D","s":"f2","x":8.75,"y":0.007},{"p":"D","s":"f2","x":9.38,"y":0.003},{"p":"D","s":"f2","x":10,"y":0.001},{"p":"D","s":"f2","x":10.63,"y":0},{"p":"D","s":"f2","x":15,"y":0},
{"p":"D","s":"f3","x":0,"y":0},{"p":"D","s":"f3","x":0.31,"y":0.01},{"p":"D","s":"f3","x":0.63,"y":0.06},{"p":"D","s":"f3","x":0.94,"y":0.12},{"p":"D","s":"f3","x":1.25,"y":0.16},{"p":"D","s":"f3","x":1.56,"y":0.172},{"p":"D","s":"f3","x":1.88,"y":0.17},{"p":"D","s":"f3","x":2.19,"y":0.158},{"p":"D","s":"f3","x":2.5,"y":0.143},{"p":"D","s":"f3","x":2.81,"y":0.13},{"p":"D","s":"f3","x":3.13,"y":0.119},{"p":"D","s":"f3","x":3.75,"y":0.105},{"p":"D","s":"f3","x":4.38,"y":0.099},{"p":"D","s":"f3","x":5,"y":0.096},{"p":"D","s":"f3","x":5.63,"y":0.09},{"p":"D","s":"f3","x":6.25,"y":0.086},{"p":"D","s":"f3","x":6.88,"y":0.082},{"p":"D","s":"f3","x":7.5,"y":0.074},{"p":"D","s":"f3","x":8.13,"y":0.066},{"p":"D","s":"f3","x":8.75,"y":0.057},{"p":"D","s":"f3","x":9.38,"y":0.047},{"p":"D","s":"f3","x":10,"y":0.037},{"p":"D","s":"f3","x":10.63,"y":0.029},{"p":"D","s":"f3","x":11.25,"y":0.022},{"p":"D","s":"f3","x":11.88,"y":0.017},{"p":"D","s":"f3","x":12.5,"y":0.013},{"p":"D","s":"f3","x":13.13,"y":0.01},{"p":"D","s":"f3","x":13.75,"y":0.008},{"p":"D","s":"f3","x":14.38,"y":0.006},{"p":"D","s":"f3","x":15,"y":0.004}
]
},
"concat":[
{"width":455,"height":357,"resolve":{"axis":{"x":"independent","y":"independent"}},"layer":[
 {"data":{"name":"pts"},"transform":[{"filter":"datum.p==='A'"}],"mark":{"type":"point","filled":false,"size":361,"strokeWidth":1,"color":"#555","opacity":1},
  "encoding":{"x":{"field":"x","type":"quantitative","scale":{"domain":[0,20],"nice":false,"zero":false},"axis":{"values":[0,5,10,15,20],"format":"d","title":"Bubble diameter [cm]","tickSize":-5,"labelPadding":3,"titlePadding":5}},
   "y":{"field":"y","type":"quantitative","scale":{"domain":[0,0.45],"nice":false},"axis":{"values":[0,0.05,0.1,0.15,0.2,0.25,0.3,0.35,0.4,0.45],"labelExpr":"datum.value < 0.001 ? '0' : (datum.value < 0.28 ? format(datum.value, '.2f') : format(datum.value, '.2~f'))","title":"Probability density [-]","tickSize":-5,"labelPadding":4,"titlePadding":1}},
   "shape":{"field":"s","type":"nominal","scale":{"domain":["d1","f1","d2","f2","d3","f3"],"range":["M-0.37,0A0.37,0.37 0 1,0 0.37,0A0.37,0.37 0 1,0 -0.37,0Z","M-1.6,0H1.6","M-0.42,-0.3L0.42,-0.3L0,0.42Z","M-1.6,0H1.6","M-0.33,-0.33H0.33V0.33H-0.33Z","M-1.6,0H1.6"]},
    "legend":{"title":null,"orient":"none","legendX":305,"legendY":7,"labelExpr":"{'d1':'0.25 H₀, data','f1':'0.25 H₀, fit','d2':'0.50 H₀, data','f2':'0.50 H₀, fit','d3':'0.75 H₀, data','f3':'0.75 H₀, fit'}[datum.label]","symbolSize":361,"symbolStrokeWidth":1.3,"symbolStrokeColor":"#000","symbolFillColor":"transparent","labelFontSize":13.5,"labelFont":"Liberation Sans","labelColor":"#000","labelOffset":7,"rowPadding":7,"padding":0}}}},
 {"data":{"name":"fit"},"transform":[{"filter":"datum.p==='A'"}],"mark":{"type":"line","interpolate":"monotone","color":"#000","strokeWidth":1.5},
  "encoding":{"x":{"field":"x","type":"quantitative","axis":{"orient":"top","values":[0,5,10,15,20],"labels":false,"title":null,"tickSize":-5}},
   "y":{"field":"y","type":"quantitative","axis":{"orient":"right","values":[0,0.05,0.1,0.15,0.2,0.25,0.3,0.35,0.4,0.45],"labels":false,"title":null,"tickSize":-5}},
   "strokeDash":{"field":"s","type":"nominal","scale":{"domain":["d1","f1","d2","f2","d3","f3"],"range":[[1,0],[1,0],[1,0],[6,2.5,1.5,2.5],[1,0],[4,2.5]]},
    "legend":{"title":null,"orient":"none","legendX":305,"legendY":7,"labelExpr":"{'d1':'0.25 H₀, data','f1':'0.25 H₀, fit','d2':'0.50 H₀, data','f2':'0.50 H₀, fit','d3':'0.75 H₀, data','f3':'0.75 H₀, fit'}[datum.label]","symbolSize":361,"symbolStrokeWidth":1.3,"symbolStrokeColor":"#000","symbolFillColor":"transparent","labelFontSize":13.5,"labelFont":"Liberation Sans","labelColor":"#000","labelOffset":7,"rowPadding":7,"padding":0}}}},
 {"data":{"values":[{"t":"Experimental, 3.4 U"}]},"mark":{"type":"text","align":"left","baseline":"middle","fontSize":19.5},"encoding":{"x":{"datum":0.62,"type":"quantitative","axis":null},"y":{"datum":0.412,"type":"quantitative","axis":null},"text":{"field":"t"}}},
 {"data":{"values":[{"t":"mf"}]},"mark":{"type":"text","align":"left","baseline":"middle","fontSize":13.5},"encoding":{"x":{"datum":8.15,"type":"quantitative","axis":null},"y":{"datum":0.401,"type":"quantitative","axis":null},"text":{"field":"t"}}}
]},
{"width":455,"height":357,"resolve":{"axis":{"x":"independent","y":"independent"}},"layer":[
 {"data":{"name":"pts"},"transform":[{"filter":"datum.p==='B'"}],"mark":{"type":"point","filled":false,"size":361,"strokeWidth":1,"color":"#555","opacity":1},
  "encoding":{"x":{"field":"x","type":"quantitative","scale":{"domain":[0,20],"nice":false,"zero":false},"axis":{"values":[0,5,10,15,20],"format":"d","title":"Bubble diameter [cm]","tickSize":-5,"labelPadding":3,"titlePadding":5}},
   "y":{"field":"y","type":"quantitative","scale":{"domain":[0,0.45],"nice":false},"axis":{"values":[0,0.05,0.1,0.15,0.2,0.25,0.3,0.35,0.4,0.45],"labelExpr":"datum.value < 0.001 ? '0' : (datum.value < 0.28 ? format(datum.value, '.2f') : format(datum.value, '.2~f'))","title":"Probability density [-]","tickSize":-5,"labelPadding":4,"titlePadding":1}},
   "shape":{"field":"s","type":"nominal","scale":{"domain":["d1","f1","d2","f2","d3","f3"],"range":["M-0.37,0A0.37,0.37 0 1,0 0.37,0A0.37,0.37 0 1,0 -0.37,0Z","M-1.6,0H1.6","M-0.42,-0.3L0.42,-0.3L0,0.42Z","M-1.6,0H1.6","M-0.33,-0.33H0.33V0.33H-0.33Z","M-1.6,0H1.6"]},
    "legend":{"title":null,"orient":"none","legendX":305,"legendY":7,"labelExpr":"{'d1':'0.25 H₀, data','f1':'0.25 H₀, fit','d2':'0.50 H₀, data','f2':'0.50 H₀, fit','d3':'0.75 H₀, data','f3':'0.75 H₀, fit'}[datum.label]","symbolSize":361,"symbolStrokeWidth":1.3,"symbolStrokeColor":"#000","symbolFillColor":"transparent","labelFontSize":13.5,"labelFont":"Liberation Sans","labelColor":"#000","labelOffset":7,"rowPadding":7,"padding":0}}}},
 {"data":{"name":"fit"},"transform":[{"filter":"datum.p==='B'"}],"mark":{"type":"line","interpolate":"monotone","color":"#000","strokeWidth":1.5},
  "encoding":{"x":{"field":"x","type":"quantitative","axis":{"orient":"top","values":[0,5,10,15,20],"labels":false,"title":null,"tickSize":-5}},
   "y":{"field":"y","type":"quantitative","axis":{"orient":"right","values":[0,0.05,0.1,0.15,0.2,0.25,0.3,0.35,0.4,0.45],"labels":false,"title":null,"tickSize":-5}},
   "strokeDash":{"field":"s","type":"nominal","scale":{"domain":["d1","f1","d2","f2","d3","f3"],"range":[[1,0],[1,0],[1,0],[6,2.5,1.5,2.5],[1,0],[4,2.5]]},
    "legend":{"title":null,"orient":"none","legendX":305,"legendY":7,"labelExpr":"{'d1':'0.25 H₀, data','f1':'0.25 H₀, fit','d2':'0.50 H₀, data','f2':'0.50 H₀, fit','d3':'0.75 H₀, data','f3':'0.75 H₀, fit'}[datum.label]","symbolSize":361,"symbolStrokeWidth":1.3,"symbolStrokeColor":"#000","symbolFillColor":"transparent","labelFontSize":13.5,"labelFont":"Liberation Sans","labelColor":"#000","labelOffset":7,"rowPadding":7,"padding":0}}}},
 {"data":{"values":[{"t":"Computational, 3.4 U"}]},"mark":{"type":"text","align":"left","baseline":"middle","fontSize":19.5},"encoding":{"x":{"datum":0.57,"type":"quantitative","axis":null},"y":{"datum":0.412,"type":"quantitative","axis":null},"text":{"field":"t"}}},
 {"data":{"values":[{"t":"mf"}]},"mark":{"type":"text","align":"left","baseline":"middle","fontSize":13.5},"encoding":{"x":{"datum":8.62,"type":"quantitative","axis":null},"y":{"datum":0.401,"type":"quantitative","axis":null},"text":{"field":"t"}}}
]},
{"width":455,"height":358,"resolve":{"axis":{"x":"independent","y":"independent"}},"layer":[
 {"data":{"name":"pts"},"transform":[{"filter":"datum.p==='C'"}],"mark":{"type":"point","filled":false,"size":361,"strokeWidth":1,"color":"#555","opacity":1},
  "encoding":{"x":{"field":"x","type":"quantitative","scale":{"domain":[0,20],"nice":false,"zero":false},"axis":{"values":[0,5,10,15,20],"format":"d","title":"Bubble diameter [cm]","tickSize":-5,"labelPadding":3,"titlePadding":5}},
   "y":{"field":"y","type":"quantitative","scale":{"domain":[0,0.3],"nice":false},"axis":{"values":[0,0.05,0.1,0.15,0.2,0.25],"format":".2~f","title":"Probability density [-]","tickSize":-5,"labelPadding":4,"titlePadding":1}},
   "shape":{"field":"s","type":"nominal","scale":{"domain":["d1","f1","d2","f2","d3","f3"],"range":["M-0.37,0A0.37,0.37 0 1,0 0.37,0A0.37,0.37 0 1,0 -0.37,0Z","M-1.6,0H1.6","M-0.42,-0.3L0.42,-0.3L0,0.42Z","M-1.6,0H1.6","M-0.33,-0.33H0.33V0.33H-0.33Z","M-1.6,0H1.6"]},
    "legend":{"title":null,"orient":"none","legendX":305,"legendY":10,"labelExpr":"{'d1':'0.25 H₀, data','f1':'0.25 H₀, fit','d2':'0.50 H₀, data','f2':'0.50 H₀, fit','d3':'0.75 H₀, data','f3':'0.75 H₀, fit'}[datum.label]","symbolSize":361,"symbolStrokeWidth":1.3,"symbolStrokeColor":"#000","symbolFillColor":"transparent","labelFontSize":13.5,"labelFont":"Liberation Sans","labelColor":"#000","labelOffset":7,"rowPadding":7,"padding":0}}}},
 {"data":{"name":"fit"},"transform":[{"filter":"datum.p==='C'"}],"mark":{"type":"line","interpolate":"monotone","color":"#000","strokeWidth":1.5},
  "encoding":{"x":{"field":"x","type":"quantitative","axis":{"orient":"top","values":[0,5,10,15,20],"labels":false,"title":null,"tickSize":-5}},
   "y":{"field":"y","type":"quantitative","axis":{"orient":"right","values":[0,0.05,0.1,0.15,0.2,0.25],"labels":false,"title":null,"tickSize":-5}},
   "strokeDash":{"field":"s","type":"nominal","scale":{"domain":["d1","f1","d2","f2","d3","f3"],"range":[[1,0],[1,0],[1,0],[6,2.5,1.5,2.5],[1,0],[4,2.5]]},
    "legend":{"title":null,"orient":"none","legendX":305,"legendY":10,"labelExpr":"{'d1':'0.25 H₀, data','f1':'0.25 H₀, fit','d2':'0.50 H₀, data','f2':'0.50 H₀, fit','d3':'0.75 H₀, data','f3':'0.75 H₀, fit'}[datum.label]","symbolSize":361,"symbolStrokeWidth":1.3,"symbolStrokeColor":"#000","symbolFillColor":"transparent","labelFontSize":13.5,"labelFont":"Liberation Sans","labelColor":"#000","labelOffset":7,"rowPadding":7,"padding":0}}}},
 {"data":{"values":[{"t":"Experimental, 5.0 U"}]},"mark":{"type":"text","align":"left","baseline":"middle","fontSize":19.5},"encoding":{"x":{"datum":0.62,"type":"quantitative","axis":null},"y":{"datum":0.277,"type":"quantitative","axis":null},"text":{"field":"t"}}},
 {"data":{"values":[{"t":"mf"}]},"mark":{"type":"text","align":"left","baseline":"middle","fontSize":13.5},"encoding":{"x":{"datum":8.15,"type":"quantitative","axis":null},"y":{"datum":0.2705,"type":"quantitative","axis":null},"text":{"field":"t"}}}
]},
{"width":455,"height":358,"resolve":{"axis":{"x":"independent","y":"independent"}},"layer":[
 {"data":{"name":"pts"},"transform":[{"filter":"datum.p==='D'"}],"mark":{"type":"point","filled":false,"size":361,"strokeWidth":1,"color":"#555","opacity":1},
  "encoding":{"x":{"field":"x","type":"quantitative","scale":{"domain":[0,20],"nice":false,"zero":false},"axis":{"values":[0,5,10,15,20],"format":"d","title":"Bubble diameter [cm]","tickSize":-5,"labelPadding":3,"titlePadding":5}},
   "y":{"field":"y","type":"quantitative","scale":{"domain":[0,0.3],"nice":false},"axis":{"values":[0,0.05,0.1,0.15,0.2,0.25],"format":".2~f","title":"Probability density [-]","tickSize":-5,"labelPadding":4,"titlePadding":1}},
   "shape":{"field":"s","type":"nominal","scale":{"domain":["d1","f1","d2","f2","d3","f3"],"range":["M-0.37,0A0.37,0.37 0 1,0 0.37,0A0.37,0.37 0 1,0 -0.37,0Z","M-1.6,0H1.6","M-0.42,-0.3L0.42,-0.3L0,0.42Z","M-1.6,0H1.6","M-0.33,-0.33H0.33V0.33H-0.33Z","M-1.6,0H1.6"]},
    "legend":{"title":null,"orient":"none","legendX":305,"legendY":10,"labelExpr":"{'d1':'0.25 H₀, data','f1':'0.25 H₀, fit','d2':'0.50 H₀, data','f2':'0.50 H₀, fit','d3':'0.75 H₀, data','f3':'0.75 H₀, fit'}[datum.label]","symbolSize":361,"symbolStrokeWidth":1.3,"symbolStrokeColor":"#000","symbolFillColor":"transparent","labelFontSize":13.5,"labelFont":"Liberation Sans","labelColor":"#000","labelOffset":7,"rowPadding":7,"padding":0}}}},
 {"data":{"name":"fit"},"transform":[{"filter":"datum.p==='D'"}],"mark":{"type":"line","interpolate":"monotone","color":"#000","strokeWidth":1.5},
  "encoding":{"x":{"field":"x","type":"quantitative","axis":{"orient":"top","values":[0,5,10,15,20],"labels":false,"title":null,"tickSize":-5}},
   "y":{"field":"y","type":"quantitative","axis":{"orient":"right","values":[0,0.05,0.1,0.15,0.2,0.25],"labels":false,"title":null,"tickSize":-5}},
   "strokeDash":{"field":"s","type":"nominal","scale":{"domain":["d1","f1","d2","f2","d3","f3"],"range":[[1,0],[1,0],[1,0],[6,2.5,1.5,2.5],[1,0],[4,2.5]]},
    "legend":{"title":null,"orient":"none","legendX":305,"legendY":10,"labelExpr":"{'d1':'0.25 H₀, data','f1':'0.25 H₀, fit','d2':'0.50 H₀, data','f2':'0.50 H₀, fit','d3':'0.75 H₀, data','f3':'0.75 H₀, fit'}[datum.label]","symbolSize":361,"symbolStrokeWidth":1.3,"symbolStrokeColor":"#000","symbolFillColor":"transparent","labelFontSize":13.5,"labelFont":"Liberation Sans","labelColor":"#000","labelOffset":7,"rowPadding":7,"padding":0}}}},
 {"data":{"values":[{"t":"Computational, 5.0 U"}]},"mark":{"type":"text","align":"left","baseline":"middle","fontSize":19.5},"encoding":{"x":{"datum":0.57,"type":"quantitative","axis":null},"y":{"datum":0.277,"type":"quantitative","axis":null},"text":{"field":"t"}}},
 {"data":{"values":[{"t":"mf"}]},"mark":{"type":"text","align":"left","baseline":"middle","fontSize":13.5},"encoding":{"x":{"datum":8.62,"type":"quantitative","axis":null},"y":{"datum":0.2705,"type":"quantitative","axis":null},"text":{"field":"t"}}}
]}
]
}
